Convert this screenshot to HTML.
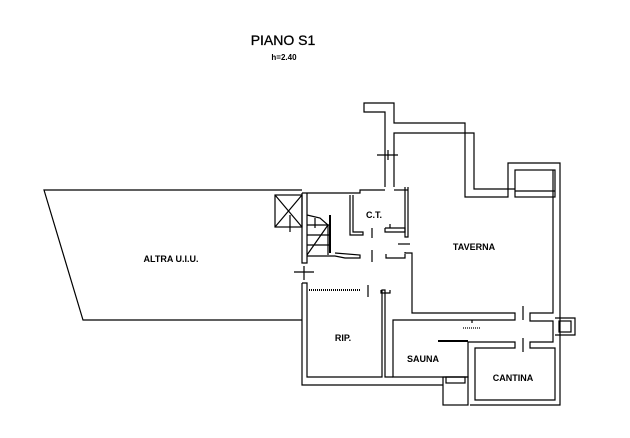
<!DOCTYPE html>
<html><head><meta charset="utf-8"><style>
html,body{margin:0;padding:0;background:#fff;width:630px;height:438px;overflow:hidden}
svg{display:block}
text{font-family:"Liberation Sans",sans-serif;fill:#000}
</style></head><body>
<svg width="630" height="438" viewBox="0 0 630 438" xmlns="http://www.w3.org/2000/svg">
<g fill="none" stroke="#000" stroke-width="1.2">
<polyline points="302,190 44,190 83,320 302,320"/>
<polyline points="385,187 385,112 364,112 364,103 394,103 394,123 465,123 465,197 508,197 508,163 560,163 560,405 470,405"/>
<polyline points="394,187 394,133 474,133 474,189 515,189"/>
<line x1="377" y1="155" x2="398" y2="155"/>
<line x1="388" y1="150" x2="388" y2="160"/>
<polyline points="553,170 553,313 530,313 530,321 553,321 553,342 530,342 530,348 555,348 555,400 475,400 475,348 515,348 515,342 468,342 468,377 393,377 393,320 515,320 515,313 412,313 412,253 405,253 405,252"/>
<rect x="515" y="170" width="40" height="27"/>
<line x1="515" y1="191" x2="555" y2="191"/>
<polyline points="555,318 575,318 575,335 555,335"/>
<rect x="559" y="321" width="12" height="11"/>
<polyline points="302,193 302,263 307,263 307,193"/>
<polyline points="302,283 307,283 307,377 382,377 382,290 385,290 385,377 393,377"/>
<polyline points="302,283 302,385 443,385"/>
<line x1="294" y1="272" x2="314" y2="272"/>
<line x1="304" y1="266" x2="304" y2="280"/>
<polyline points="302,193 360,193 360,190 385,190"/>
<line x1="394" y1="190" x2="408" y2="190"/>
<polyline points="408,187 408,237 405,237 405,187"/>
<rect x="443" y="377" width="25" height="28"/>
<rect x="446" y="377" width="19" height="6"/>
<polyline points="350,195 350,235 363,235 363,232 353,232 353,195"/>
<polyline points="385,228 405,228 405,232 385,232 385,228"/>
<line x1="390" y1="224" x2="390" y2="228"/>
<line x1="372" y1="228" x2="372" y2="238"/>
<line x1="398" y1="244" x2="410" y2="244"/>
<line x1="372" y1="250" x2="372" y2="262"/>
<polyline points="386,254 386,258 405,258 405,254"/>
<line x1="368" y1="285" x2="368" y2="297"/>
<polyline points="381,290 381,293 390,293 390,290"/>
<rect x="275" y="195" width="27" height="32"/>
<line x1="275" y1="195" x2="302" y2="227"/>
<line x1="302" y1="195" x2="275" y2="227"/>
<line x1="290" y1="215" x2="290" y2="232"/>
<polyline points="307,215 320,218 328,225 328,255"/>
<line x1="330" y1="215" x2="330" y2="253" stroke-width="2"/>
<line x1="307" y1="255" x2="328" y2="225"/>
<line x1="307" y1="225" x2="330" y2="225"/>
<line x1="307" y1="235" x2="330" y2="235"/>
<line x1="307" y1="245" x2="330" y2="245"/>
<polyline points="307,256 335,256 345,258 360,258 360,255 335,253"/>
<line x1="315" y1="218" x2="315" y2="228"/>
<line x1="309" y1="290" x2="360" y2="290" stroke-width="2" stroke-dasharray="1,1"/>
<line x1="523" y1="306" x2="523" y2="320"/>
<line x1="523" y1="338" x2="523" y2="352"/>
<line x1="463" y1="328" x2="480" y2="328" stroke-dasharray="1,1"/>
<polyline points="438,341 468,341" stroke-width="2"/>
<line x1="472" y1="320" x2="472" y2="323"/>
</g>
<text x="283" y="45" font-size="14" text-anchor="middle" stroke="#000" stroke-width="0.3">PIANO S1</text>
<text x="284" y="60" font-size="8" text-anchor="middle" font-weight="bold">h=2.40</text>
<g font-size="9" text-anchor="middle" font-weight="bold">
<text x="171" y="262">ALTRA U.I.U.</text>
<text x="374" y="218">C.T.</text>
<text x="474" y="250">TAVERNA</text>
<text x="343" y="341">RIP.</text>
<text x="423" y="362">SAUNA</text>
<text x="513" y="381">CANTINA</text>
</g>
</svg>
</body></html>
